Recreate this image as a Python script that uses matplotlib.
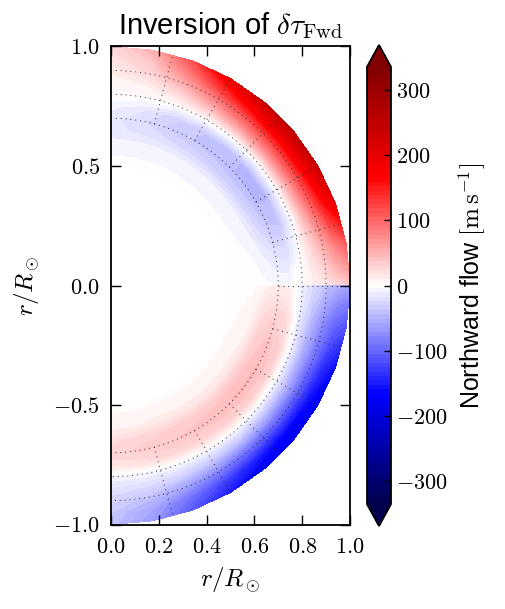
import numpy as np
import matplotlib
matplotlib.use("Agg")
import matplotlib.pyplot as plt
from matplotlib.ticker import FuncFormatter

plt.rcParams["mathtext.fontset"] = "cm"
plt.rcParams["font.family"] = ["Liberation Sans", "DejaVu Sans"]

# radius (r/Rsun) and colatitude (deg) of the inverted flow map
radius = [0.50, 0.60, 0.65, 0.70, 0.75, 0.80, 0.85, 0.90, 0.95, 1.00]
colat_north = [0, 10, 20, 30, 40, 50, 60, 70, 80, 90]
colat_south = [90, 100, 110, 120, 130, 140, 150, 160, 170, 180]

# northward flow [m/s], one row per radius
flow_north = [
    [0, 0, 0, 0, 0, 0, 0, 0, 0, 0],
    [-8, -8, -8, -9, -10, -10, -9, -6, -3, 0],
    [-15, -18, -22, -26, -30, -32, -30, -22, -10, -2],
    [-15, -22, -32, -38, -42, -45, -45, -36, -18, -4],
    [-8, -15, -28, -36, -42, -45, -45, -38, -20, -4],
    [2, 2, 0, 0, 0, 0, 0, -5, -2, 2],
    [5, 10, 25, 45, 60, 65, 60, 45, 25, 8],
    [12, 25, 55, 90, 115, 125, 120, 95, 50, 15],
    [18, 35, 85, 140, 180, 195, 185, 150, 80, 25],
    [25, 50, 115, 190, 235, 250, 240, 195, 105, 35],
]
flow_south = [
    [0, 0, 0, 0, 0, 0, 0, 0, 0, 0],
    [2, 6, 10, 12, 12, 12, 12, 12, 10, 8],
    [8, 22, 32, 36, 36, 34, 32, 30, 26, 22],
    [12, 30, 40, 45, 45, 42, 40, 36, 32, 28],
    [8, 22, 30, 32, 32, 30, 28, 26, 22, 20],
    [-10, -15, -12, -10, -8, -6, -5, -5, -5, -5],
    [-25, -45, -55, -55, -52, -45, -38, -30, -22, -18],
    [-40, -75, -95, -105, -105, -98, -82, -60, -40, -28],
    [-52, -100, -135, -155, -160, -150, -125, -92, -56, -36],
    [-60, -115, -160, -180, -185, -175, -150, -110, -65, -40],
]

vmax = 335
cbar_ticks = [-300, -200, -100, 0, 100, 200, 300]

# dotted grid
grid_r = [0.7, 0.8, 0.9]
grid_colat = [15, 30, 45, 60, 75, 90, 105, 120, 135, 150, 165]


def to_xy(r, th):
    R, T = np.meshgrid(r, np.radians(th), indexing="ij")
    return R * np.sin(T), R * np.cos(T)


fig = plt.figure(figsize=(5.05, 6.09), dpi=100)
ax = fig.add_axes([111 / 505, 83 / 609, 239 / 505, 481 / 609])
cax = fig.add_axes([367 / 505, 83 / 609, 24 / 505, 481 / 609])

levels = np.linspace(-vmax, vmax, 100)
xn, yn = to_xy(radius, colat_north)
cs = ax.contourf(xn, yn, np.array(flow_north), levels=levels, cmap="seismic", extend="both")
xs, ys = to_xy(radius, colat_south)
ax.contourf(xs, ys, np.array(flow_south), levels=levels, cmap="seismic", extend="both")

th = np.radians(np.linspace(0, 180, 400))
for r in grid_r:
    ax.plot(r * np.sin(th), r * np.cos(th), color="0.15", lw=0.7, ls=(0, (1, 4)))
for c in grid_colat:
    t = np.radians(c)
    ax.plot([0.7 * np.sin(t), np.sin(t)], [0.7 * np.cos(t), np.cos(t)],
            color="0.15", lw=0.7, ls=(0, (1, 4)))

ax.set_xlim(0, 1)
ax.set_ylim(-1, 1)
ax.set_aspect("equal")
ax.set_xticks([0, 0.2, 0.4, 0.6, 0.8, 1.0])
ax.set_yticks([-1.0, -0.5, 0.0, 0.5, 1.0])
fmt = FuncFormatter(lambda v, p: "$%.1f$" % v)
ax.xaxis.set_major_formatter(fmt)
ax.yaxis.set_major_formatter(fmt)
ax.tick_params(direction="in", top=True, right=True, length=7, width=1, labelsize=16)
ax.tick_params(axis="x", pad=9)
ax.tick_params(axis="y", pad=8)
for s in ax.spines.values():
    s.set_linewidth(1.3)
ax.set_xlabel(r"$r/R_\odot$", fontsize=18, labelpad=6)
ax.set_ylabel(r"$r/R_\odot$", fontsize=18, labelpad=8)
ax.set_title(r"Inversion of $\delta\tau_{\rm Fwd}$", fontsize=21, pad=9)

cb = fig.colorbar(cs, cax=cax, ticks=cbar_ticks)
cb.ax.yaxis.set_major_formatter(FuncFormatter(lambda v, p: "$%d$" % v))
cb.ax.tick_params(direction="in", length=5, width=1, labelsize=16)
cb.outline.set_linewidth(1.3)
cb.set_label(r"Northward flow $[\mathrm{m\,s^{-1}}]$", fontsize=18, labelpad=6)

fig.savefig("out.png", dpi=100)
